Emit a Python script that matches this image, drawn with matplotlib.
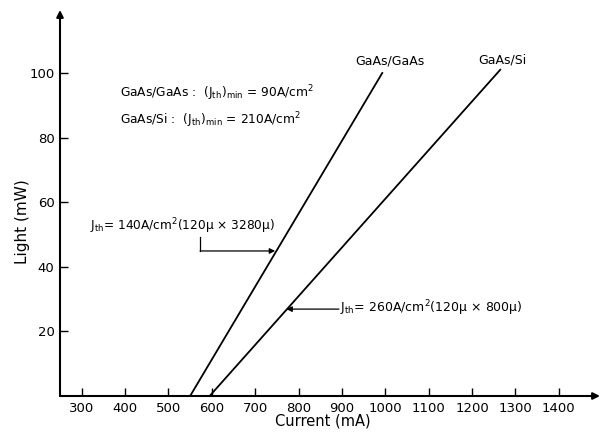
import matplotlib
matplotlib.use("Agg")
import matplotlib.pyplot as plt

# Data
gaas_gaas_current = [550, 993]
gaas_gaas_light = [0, 100]
gaas_si_current = [595, 1265]
gaas_si_light = [0, 101]
x_ticks = [300, 400, 500, 600, 700, 800, 900, 1000, 1100, 1200, 1300, 1400]
y_ticks = [20, 40, 60, 80, 100]

plt.rcParams['mathtext.default'] = 'regular'
plt.rcParams['font.family'] = ['DejaVu Sans']

fig = plt.figure(figsize=(6.03, 4.34), dpi=100)
ax = fig.add_axes([60/603, 38/434, 540/603, 386/434])
ax.set_xlim(250, 1495)
ax.set_ylim(0, 119.5)

for s in ['top', 'right', 'left', 'bottom']:
    ax.spines[s].set_visible(False)

# axes with arrows
ax.annotate('', xy=(1, 0), xytext=(0, 0), xycoords='axes fraction',
            arrowprops=dict(arrowstyle='-|>', color='black', lw=1.5,
                            mutation_scale=10, shrinkA=0, shrinkB=0))
ax.annotate('', xy=(0, 1), xytext=(0, 0), xycoords='axes fraction',
            arrowprops=dict(arrowstyle='-|>', color='black', lw=1.5,
                            mutation_scale=10, shrinkA=0, shrinkB=0))

ax.plot(gaas_gaas_current, gaas_gaas_light, color='black', lw=1.3)
ax.plot(gaas_si_current, gaas_si_light, color='black', lw=1.3)

ax.set_xticks(x_ticks)
ax.set_xticklabels([str(v) for v in x_ticks])
ax.set_yticks(y_ticks)
ax.set_yticklabels([str(v) for v in y_ticks])
ax.tick_params(axis='x', direction='in', length=6, width=1, pad=4, labelsize=9.5)
ax.tick_params(axis='y', direction='in', length=6, width=1, pad=4, labelsize=9.5)

ax.set_xlabel('Current (mA)', fontsize=10.5, va='center')
ax.set_ylabel('Light (mW)', fontsize=11, va='center')
ax.xaxis.set_label_coords(0.487, -0.065)
ax.yaxis.set_label_coords(-0.070, 0.453)

# curve labels
ax.text(1011, 103.7, 'GaAs/GaAs', ha='center', va='center', fontsize=9)
ax.text(1271, 104.0, 'GaAs/Si', ha='center', va='center', fontsize=9)

# threshold texts
ax.text(388, 93.8, r'GaAs/GaAs :  $(J_{th})_{min}$ = 90A/cm$^2$',
        ha='left', va='center', fontsize=8.8)
ax.text(388, 85.4, r'GaAs/Si :  $(J_{th})_{min}$ = 210A/cm$^2$',
        ha='left', va='center', fontsize=8.8)

# annotation 1
ax.text(319, 52.6, r'$J_{th}$= 140A/cm$^2$(120$\mu$ × 3280$\mu$)',
        ha='left', va='center', fontsize=8.7)
ax.plot([573, 573], [49.2, 44.9], color='black', lw=0.9)
ax.annotate('', xy=(746, 44.9), xytext=(573, 44.9),
            arrowprops=dict(arrowstyle='-|>', color='black', lw=0.9,
                            mutation_scale=8, shrinkA=0, shrinkB=0))

# annotation 2
ax.text(895, 27.3, r'$J_{th}$= 260A/cm$^2$(120$\mu$ × 800$\mu$)',
        ha='left', va='center', fontsize=9)
ax.annotate('', xy=(772, 26.9), xytext=(893, 26.9),
            arrowprops=dict(arrowstyle='-|>', color='black', lw=0.9,
                            mutation_scale=8, shrinkA=0, shrinkB=0))

fig.savefig('out.png', dpi=100)
